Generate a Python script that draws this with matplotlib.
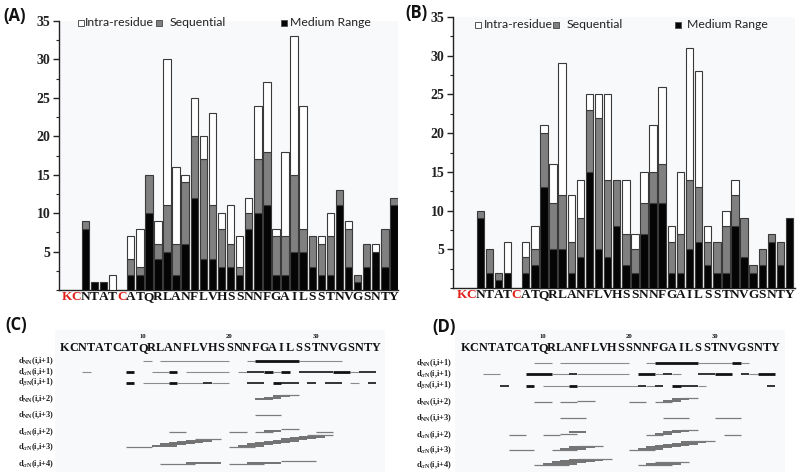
import numpy as np
import matplotlib
matplotlib.use("Agg")
import matplotlib.pyplot as plt
from matplotlib.patches import Rectangle
from matplotlib.ticker import MultipleLocator

# ---------------- data ----------------
sequence = list("KCNTATCATQRLANFLVHSSNNFGAILSSTNVGSNTY")
red_residues = [1, 2, 7]          # residue numbers labelled in red
number_ticks = [10, 20, 30]

# panel A (NOE counts per residue)
a_medium = [0,0,8,1,1,0,0,2,2,10,4,5,2,6,12,4,4,3,3,2,8,10,11,2,2,5,5,3,2,2,11,3,1,3,5,3,11]
a_sequential = [0,0,1,0,0,0,0,2,1,5,2,6,4,8,8,13,7,5,3,1,2,7,7,5,5,10,3,4,4,5,2,5,1,3,0,5,1]
a_intra = [0,0,0,0,0,2,0,3,5,0,3,19,10,1,5,3,12,2,5,4,2,7,9,1,11,18,16,0,1,3,0,1,0,0,1,0,0]

# panel B
b_medium = [0,0,9,2,1,2,0,2,3,13,5,5,2,4,15,5,4,8,3,2,7,11,11,2,2,5,6,3,2,2,8,4,2,3,6,3,9]
b_sequential = [0,0,1,3,1,0,0,2,2,7,6,7,4,5,8,17,10,6,4,3,4,4,5,4,5,9,7,3,4,6,4,5,1,2,1,3,0]
b_intra = [0,0,0,0,0,4,0,2,3,1,5,17,6,5,2,3,11,0,7,2,4,6,10,2,8,17,15,2,0,2,2,0,0,0,0,0,0]

legend_labels = ["Intra-residue", "Sequential", "Medium Range"]

row_labels = [r"d$_{\mathregular{NN}}$(i,i+1)", r"d$_{\alpha\mathregular{N}}$(i,i+1)",
              r"d$_{\beta\mathregular{N}}$(i,i+1)", r"d$_{\mathregular{NN}}$(i,i+2)",
              r"d$_{\mathregular{NN}}$(i,i+3)", r"d$_{\alpha\mathregular{N}}$(i,i+2)",
              r"d$_{\alpha\mathregular{N}}$(i,i+3)", r"d$_{\alpha\mathregular{N}}$(i,i+4)"]

# NOE connectivities: (from residue, to residue, strength 1=weak 2=medium 3=strong)
c_nn1 = [(10,11,1),(12,20,1),(22,23,1),(23,28,3),(28,33,1)]
c_an1 = [(3,4,1),(8,9,3),(11,13,1),(13,14,3),(15,20,1),(21,22,1),(22,24,2),(24,25,3),
         (25,26,1),(26,27,3),(28,32,2),(32,34,3),(34,35,1),(35,37,2)]
c_bn1 = [(8,9,3),(10,13,1),(13,14,3),(14,17,1),(17,18,2),(18,20,1),(22,24,2),(25,26,3),
         (26,28,2),(29,30,2),(31,33,2),(34,35,1),(36,37,2)]
c_nn2 = [(23,25,2),(24,26,2),(25,27,2),(26,28,1)]
c_nn3 = [(23,26,1)]
c_an2 = [(13,15,1),(20,22,1),(23,25,1),(24,26,2),(26,28,1),(30,32,1)]
c_an3 = [(8,11,1),(11,14,2),(12,15,2),(13,16,2),(14,17,2),(15,18,2),(16,19,1),
         (20,23,1),(21,24,2),(22,25,2),(23,26,2),(24,27,2),(25,28,2),(26,29,2),(27,30,2),
         (28,31,2),(29,32,1)]
c_an4 = [(12,16,1),(15,19,2),(20,24,1),(22,26,2),(26,30,1)]

d_nn1 = [(9,11,1),(12,20,1),(22,23,1),(23,28,3),(28,32,1),(32,33,3),(33,34,1)]
d_an1 = [(3,5,1),(8,11,3),(11,13,1),(13,14,2),(14,20,1),(21,23,3),(23,24,1),(24,25,2),
         (25,26,1),(28,30,2),(30,32,3),(33,34,2),(34,35,1),(35,37,3)]
d_bn1 = [(5,6,2),(8,9,3),(10,13,1),(13,14,3),(14,21,1),(21,22,2),(22,23,1),(23,24,2),
         (25,26,3),(26,28,2),(28,29,1),(36,37,2)]
d_nn2 = [(9,11,1),(12,14,1),(14,16,1),(20,22,1),(23,25,1),(24,26,2),(25,27,2),(26,28,1)]
d_nn3 = [(12,15,1),(24,27,1),(30,33,1)]
d_an2 = [(6,8,1),(10,12,1),(12,14,1),(13,15,2),(22,24,1),(23,25,2),(24,26,2),(25,27,2),
         (26,28,1),(31,33,1)]
d_an3 = [(6,9,1),(11,14,1),(12,15,2),(13,16,2),(14,17,1),(20,23,1),(21,24,2),(22,25,2),
         (23,26,2),(24,27,2),(25,28,2),(26,29,2),(27,30,1)]
d_an4 = [(9,13,1),(10,14,2),(11,15,2),(12,16,2),(13,17,2),(14,18,1),(21,25,1),(22,26,2),(23,27,1)]

# ---------------- drawing ----------------
W, H = 800, 476
fig = plt.figure(figsize=(W/100, H/100), dpi=100)
fig.patch.set_facecolor("white")
SERIF = ["Liberation Serif", "DejaVu Serif"]
SANS = ["Lato", "DejaVu Sans"]
PANEL_BG = "#f8f9fb"

def px_axes(x0, y0, x1, y1):
    return fig.add_axes([x0/W, 1-y1/H, (x1-x0)/W, (y1-y0)/H])

def fig_xy(x, y):
    return x/W, 1-y/H

def bar_panel(ax, medium, sequential, intra, xlim):
    res = np.arange(1, len(sequence)+1)
    med = np.array(medium); seq = np.array(sequential); intr = np.array(intra)
    layers = [(np.zeros_like(med), med, "#050505"),
              (med, seq, "#808080"),
              (med+seq, intr, "white")]
    for bottom, height, color in layers:
        m = height > 0
        ax.bar(res[m], height[m], bottom=bottom[m], width=0.82, color=color,
               edgecolor="#3a3a3a", linewidth=0.8, zorder=3)
    ax.set_xlim(*xlim)
    ax.set_ylim(0, 35)
    ax.set_facecolor(PANEL_BG)
    for s in ["top", "right"]:
        ax.spines[s].set_visible(False)
    for s in ["left", "bottom"]:
        ax.spines[s].set_color("#222")
        ax.spines[s].set_linewidth(1.0)
    ax.set_xticks(res)
    ax.set_xticklabels(sequence, fontfamily=SERIF, fontweight="bold", fontsize=9.6)
    for lab, r in zip(ax.get_xticklabels(), res):
        lab.set_color("#e0201b" if r in red_residues else "#111")
    ax.tick_params(axis="x", length=0, pad=1)
    ax.set_yticks(np.arange(5, 36, 5))
    ax.yaxis.set_minor_locator(MultipleLocator(2.5))
    ax.tick_params(axis="y", which="major", length=4, width=1, direction="out", pad=2, colors="#222")
    ax.tick_params(axis="y", which="minor", length=2.5, width=0.8, direction="out", colors="#222")
    for lab in ax.get_yticklabels():
        lab.set_fontfamily(SERIF); lab.set_fontweight("bold"); lab.set_fontsize(10)

def legend(positions, y):
    # positions: (square_x, text_x) for intra, sequential, medium
    colors = ["white", "#808080", "#050505"]
    for (sx, tx), lab, col in zip(positions, legend_labels, colors):
        x0, y0 = fig_xy(sx, y+3)
        fig.add_artist(Rectangle((x0, y0), 6/W, 6/H, transform=fig.transFigure,
                                 facecolor=col, edgecolor="#555", linewidth=0.7))
        fig.text(*fig_xy(tx, y), lab, fontfamily=SANS, fontsize=8.8, color="#222",
                 va="center", ha="left")

axA = px_axes(59, 21, 398, 290)
bar_panel(axA, a_medium, a_sequential, a_intra, (0.09, 37.45))
legend([(78, 85), (156, 170), (281, 290)], 23)

axB = px_axes(453, 17, 795, 288)
bar_panel(axB, b_medium, b_sequential, b_intra, (0.0, 37.6))
legend([(475, 484), (553, 567), (675, 687)], 25)

for lab, x, y in [("(A)", 3, 16), ("(B)", 405, 13), ("(C)", 5, 325), ("(D)", 432, 327)]:
    fig.text(*fig_xy(x, y), lab, fontfamily=["Open Sans", "DejaVu Sans"], fontweight="bold",
             fontsize=12, va="center", ha="left", color="#111")

def connectivity_panel(px_range, first_px, spacing, rows, row_y, label_right, bg):
    x0, x1 = px_range
    ax = px_axes(x0, 310, x1, 476)
    ax.set_xlim(1 - (first_px - x0)/spacing, 1 + (x1 - first_px)/spacing)
    ax.set_ylim(476, 310)
    ax.axis("off")
    bx0, bx1 = bg
    ax.add_patch(Rectangle((ax.get_xlim()[0] + (bx0 - x0)/spacing, 330),
                           (bx1 - bx0)/spacing, 142, facecolor=PANEL_BG, edgecolor="none", zorder=0))
    for i, aa in enumerate(sequence, start=1):
        ax.text(i, 348, aa, fontfamily=SERIF, fontweight="bold", fontsize=8.8,
                ha="center", va="center", color="#111")
    for n in number_ticks:
        ax.text(n, 336, str(n), fontfamily=SERIF, fontweight="bold", fontsize=4.8,
                ha="center", va="center", color="#111")
    for k, (segs, y, lab) in enumerate(zip(rows, row_y, row_labels)):
        ax.text(1 - (first_px - label_right)/spacing, y, lab, fontfamily=SERIF,
                fontweight="bold", fontsize=6.0, ha="right", va="center", color="#222")
        sequential_row = k < 3
        level, prev_end = 0, None
        for (s, e, strength) in sorted(segs):
            if sequential_row:
                color = {1: "#8c8c8c", 2: "#333333", 3: "#111111"}[strength]
                lw = {1: 0.8, 2: 1.4, 3: 2.0}[strength]
                yy = y
            else:
                if prev_end is not None and s <= prev_end:
                    level += 1
                else:
                    level = 0
                prev_end = e
                color = {1: "#7c7c7c", 2: "#727272", 3: "#555"}[strength]
                lw = {1: 0.9, 2: 1.4, 3: 2.0}[strength]
                yy = y - 1.3*level
            ax.plot([s, e], [yy, yy], color=color, lw=lw, solid_capstyle="butt", zorder=2)

connectivity_panel((0, 400), 65, 8.65,
                   [c_nn1, c_an1, c_bn1, c_nn2, c_nn3, c_an2, c_an3, c_an4],
                   [361, 372, 383, 399, 415, 432, 447, 464], 54, (55, 385))
connectivity_panel((400, 800), 465.6, 8.6,
                   [d_nn1, d_an1, d_bn1, d_nn2, d_nn3, d_an2, d_an3, d_an4],
                   [363, 374, 386, 402, 418, 435, 450, 465], 452, (455, 785))

fig.savefig("out.png", dpi=100)
